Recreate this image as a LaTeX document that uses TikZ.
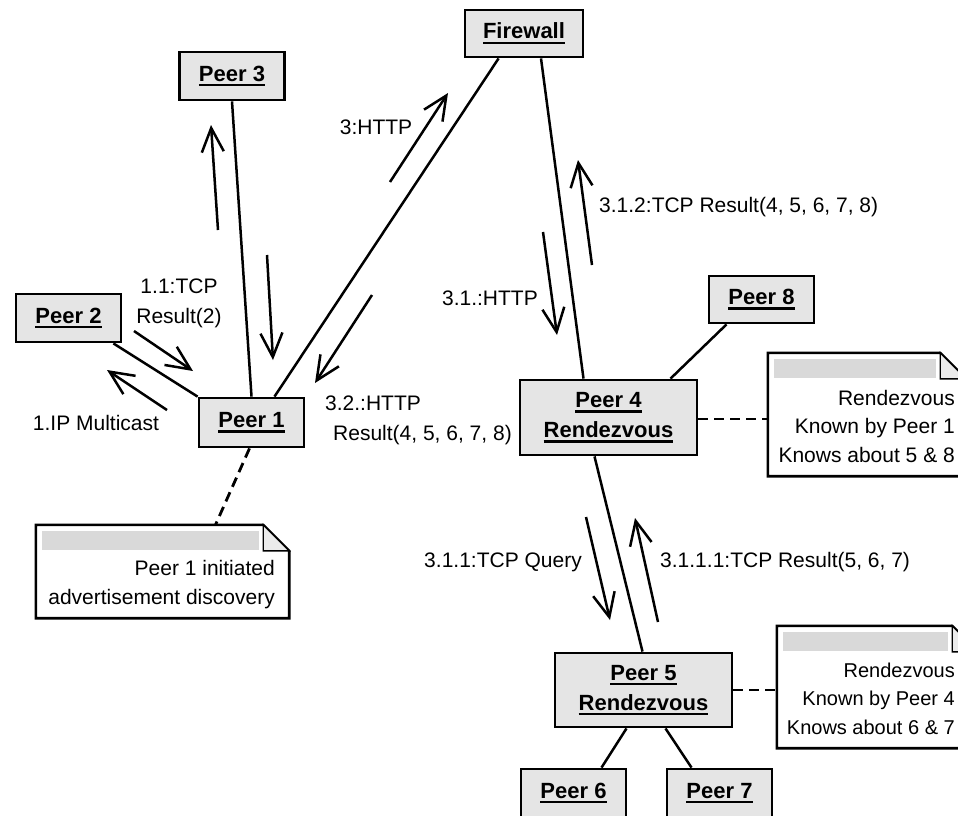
\documentclass[tikz,border=0pt]{standalone}
\usepackage{fontspec}
\setmainfont{Liberation Sans}
\usetikzlibrary{arrows.meta,calc}
\newcommand\uln[1]{\setbox0=\hbox{#1}\leavevmode\rlap{\rule[-5pt]{\wd0}{2.2pt}}\box0}
\newcommand\drawnote[2]{% #1 name, #2 fold size
  \draw[notebd] (#1.north west) -- ([xshift=-#2]#1.north east) -- ([yshift=-#2]#1.north east)
     -- (#1.south east) -- (#1.south west) -- cycle;
  \fill[black!15] ([xshift=6pt,yshift=-6pt]#1.north west) rectangle ([xshift=-#2-4pt,yshift=-25pt]#1.north east);
  \draw[line width=1.4pt, fill=black!8] ([xshift=-#2]#1.north east) -- ([xshift=-#2,yshift=-#2]#1.north east) -- ([yshift=-#2]#1.north east) -- cycle;
}
\begin{document}
\begin{tikzpicture}[x=1pt,y=-1pt,
  obj/.style={draw, line width=2.8pt, fill=black!10, font=\fontsize{22}{30}\selectfont\bfseries, align=center, inner sep=0pt},
  peer/.style={obj, minimum width=105pt, minimum height=48pt},
  rdv/.style={obj, minimum width=177pt, minimum height=75pt},
  link/.style={line width=2.5pt},
  msg/.style={line width=2.5pt, -{Straight Barb[length=24pt,width=22pt]}},
  lbl/.style={font=\fontsize{21}{30}\selectfont, inner sep=0pt},
  notetext/.style={font=\fontsize{21}{28.5}\selectfont, align=right, inner sep=0pt, anchor=east},
  notebd/.style={line width=2.6pt, fill=white},
  noteframe/.style={draw=none, inner sep=0pt},
  dashlink/.style={line width=2.8pt, dash pattern=on 10pt off 6pt},
]
\useasboundingbox (0,0) rectangle (958,815);
\clip (0,0) rectangle (958,815);

% objects
\node[peer, minimum width=118pt, minimum height=47pt] (fw) at (524,33.5) {\uln{Firewall}};
\node[peer] (p3) at (232,76) {\uln{Peer 3}};
\node[peer] (p2) at (68.5,318) {\uln{Peer 2}};
\node[peer, minimum height=49pt] (p1) at (251.5,422.5) {\uln{Peer 1}};
\node[rdv] (p4) at (608.5,417.5) {\uln{Peer 4}\\\uln{Rendezvous}};
\node[peer, minimum height=47pt] (p8) at (761.5,299.5) {\uln{Peer 8}};
\node[rdv, minimum height=74pt] (p5) at (643.5,690) {\uln{Peer 5}\\\uln{Rendezvous}};
\node[peer] (p6) at (573.5,793) {\uln{Peer 6}};
\node[peer] (p7) at (719.5,793) {\uln{Peer 7}};

% links
\draw[link] (p3.south) -- (p1.north);
\draw[link] ([xshift=-9pt]p2.south east) -- (p1.north west);
\draw[link] ([xshift=23pt]p1.north) -- ([xshift=35pt]fw.south west);
\draw[link] ([xshift=17pt]fw.south) -- ([xshift=-25pt]p4.north);
\draw[link] ([xshift=-35pt]p8.south) -- ([xshift=62pt]p4.north);
\draw[link] ([xshift=-14pt]p4.south) -- ([xshift=-1pt]p5.north);
\draw[link] ([xshift=-17pt]p5.south) -- ([xshift=28pt]p6.north);
\draw[link] ([xshift=22pt]p5.south) -- ([xshift=-28pt]p7.north);

% notes
\node[noteframe, minimum width=198pt, minimum height=123pt] (n1) at (867,414.5) {};
\node[noteframe, minimum width=201pt, minimum height=122pt] (n2) at (877.5,687) {};
\node[noteframe, minimum width=253pt, minimum height=93pt] (n3) at (162.5,571.5) {};
\drawnote{n1}{26pt}
\drawnote{n2}{26pt}
\drawnote{n3}{26pt}
\node[notetext] (t1) at (955,426) {Rendezvous\\Known by Peer 1\\Knows about 5 \& 8};
\node[notetext, font=\fontsize{20}{28.5}\selectfont] (t2) at (955,698.5) {Rendezvous\\Known by Peer 4\\Knows about 6 \& 7};
\node[notetext] (t3) at (275,584.5) {Peer 1 initiated\\advertisement discovery};

\draw[dashlink] ([xshift=-2pt]p1.south) -- ([xshift=53pt]n3.north);
\draw[dashlink] ([yshift=-1.5pt]p4.east) -- ([yshift=-1.5pt]p4.east -| n1.west);
\draw[dashlink] (p5.east) -- (p5.east -| n2.west);

% messages
\draw[msg] (218,230) -- (211,125);
\draw[msg] (267,255) -- (273,360);
\draw[msg] (390,182) -- (448,93);
\draw[msg] (372,295) -- (315,383);
\draw[msg] (134,331) -- (193,371);
\draw[msg] (167,410) -- (107,370);
\draw[msg] (543,232) -- (557,335);
\draw[msg] (592,265) -- (578,160);
\draw[msg] (586,517) -- (610,620);
\draw[msg] (658,622) -- (635,518);

% labels
\node[lbl] (l3) at (376,127) {3:HTTP};
\node[lbl, align=center] (l11) at (179,303) {1.1:TCP\\Result(2)};
\node[lbl] (lip) at (96,423) {1.IP Multicast};
\node[lbl, align=left, anchor=west] (l32) at (325,420.5) {3.2.:HTTP\\\hspace*{8pt}Result(4, 5, 6, 7, 8)};
\node[lbl, anchor=west] (l312) at (599,207) {3.1.2:TCP Result(4, 5, 6, 7, 8)};
\node[lbl, anchor=east] (l31) at (538,298) {3.1.:HTTP};
\node[lbl, anchor=east] (l311) at (582,562) {3.1.1:TCP Query};
\node[lbl, anchor=west] (l3111) at (660,562) {3.1.1.1:TCP Result(5, 6, 7)};
\end{tikzpicture}
\end{document}
